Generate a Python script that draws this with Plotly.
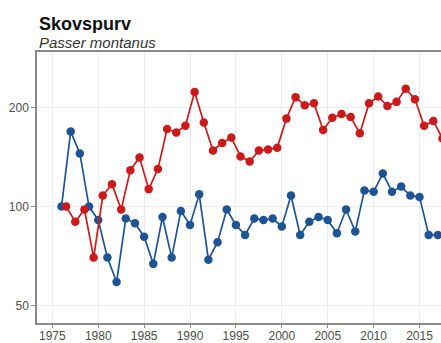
import plotly.graph_objects as go

# Blue series (plotted at the year)
blue_years = list(range(1976, 2018))
blue_values = [100, 169, 145, 100, 91, 70, 59, 92, 89, 81, 67, 93, 70, 97, 88, 109,
               69, 78, 98, 88, 82, 92, 91, 92, 87, 108, 82, 90, 93, 91, 83, 98, 84,
               112, 111, 126, 111, 115, 108, 107, 82, 82]

# Red series (plotted at mid-season, year + 0.5)
red_years = [y + 0.5 for y in range(1976, 2018)]
red_values = [100, 90, 98, 70, 108, 117, 98, 129, 141, 113, 130, 172, 168, 176, 223,
              180, 148, 156, 162, 142, 137, 148, 149, 151, 185, 215, 203, 206, 171,
              186, 191, 187, 167, 206, 216, 202, 208, 228, 212, 176, 182, 161]

x_ticks = [1975, 1980, 1985, 1990, 1995, 2000, 2005, 2010, 2015]
y_ticks = [50, 100, 200]

BLUE = "#1f5494"
RED = "#cc1a1a"

fig = go.Figure()
fig.add_trace(go.Scatter(x=blue_years, y=blue_values, mode="lines+markers",
                         line=dict(color=BLUE, width=1.7),
                         marker=dict(color=BLUE, size=8.5), showlegend=False))
fig.add_trace(go.Scatter(x=red_years, y=red_values, mode="lines+markers",
                         line=dict(color=RED, width=1.7),
                         marker=dict(color=RED, size=8.5), showlegend=False))

font_family = "Arial, Liberation Sans, Helvetica, sans-serif"

fig.update_layout(
    width=441, height=343,
    margin=dict(l=37, r=0, t=52, b=20, autoexpand=False),
    plot_bgcolor="white", paper_bgcolor="white",
    font=dict(family=font_family, size=12, color="#4d4d4d"),
    xaxis=dict(range=[1973.33, 2017.34], tickvals=x_ticks, automargin=False,
               showgrid=True, gridcolor="#ececec", gridwidth=1,
               showline=True, linecolor="#8a8a8a", linewidth=1.5, mirror=True,
               ticks="outside", ticklen=3, tickcolor="#8a8a8a", ticklabelstandoff=-2,
               tickfont=dict(size=12, color="#4d4d4d"), zeroline=False),
    yaxis=dict(type="log", range=[1.6465, 2.4695], tickvals=y_ticks, automargin=False,
               ticktext=[str(v) for v in y_ticks],
               showgrid=True, gridcolor="#ececec", gridwidth=1,
               showline=True, linecolor="#8a8a8a", linewidth=1.5,
               ticks="outside", ticklen=4, tickcolor="#8a8a8a",
               tickfont=dict(size=12, color="#4d4d4d"), zeroline=False),
    annotations=[
        dict(text="<b>Skovspurv</b>", xref="paper", yref="paper", x=0, y=1,
             xanchor="left", yanchor="bottom", yshift=17, height=18, valign="middle",
             showarrow=False,
             font=dict(size=18, color="#111111", family=font_family)),
        dict(text="<i>Passer montanus</i>", xref="paper", yref="paper", x=0, y=1,
             xanchor="left", yanchor="bottom", yshift=0, height=15, valign="middle",
             showarrow=False,
             font=dict(size=15, color="#333333", family=font_family)),
    ],
)

fig.write_html(
    "out.html",
    config={"displayModeBar": False},
    post_script="document.body.style.margin='0';document.body.style.padding='0';"
                "document.body.style.overflow='hidden';",
)
